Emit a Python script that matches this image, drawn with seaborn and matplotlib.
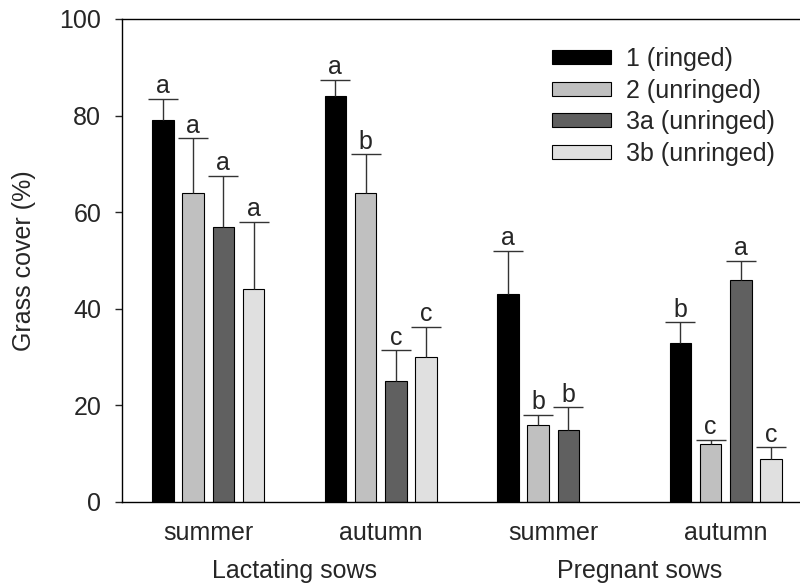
import numpy as np
import pandas as pd
import matplotlib
matplotlib.use("Agg")
import matplotlib.pyplot as plt
import matplotlib.transforms as mtrans
import seaborn as sns

# ---- data ----
seasons = ["summer", "autumn", "summer", "autumn"]
group_ids = ["L-summer", "L-autumn", "P-summer", "P-autumn"]
sow_groups = ["Lactating sows", "Pregnant sows"]
treatments = ["1 (ringed)", "2 (unringed)", "3a (unringed)", "3b (unringed)"]

ringed_1 = [79, 84, 43, 33]
unringed_2 = [64, 64, 16, 12]
unringed_3a = [57, 25, 15, 46]
unringed_3b = [44, 30, np.nan, 9]

err_top_1 = [83.4, 87.4, 52.0, 37.2]
err_top_2 = [75.3, 72.0, 18.1, 12.9]
err_top_3a = [67.5, 31.4, 19.6, 49.9]
err_top_3b = [58.0, 36.3, np.nan, 11.3]

letters_1 = ["a", "a", "a", "b"]
letters_2 = ["a", "b", "b", "c"]
letters_3a = ["a", "c", "b", "a"]
letters_3b = ["a", "c", "", "c"]

colors = ["#000000", "#c0c0c0", "#606060", "#e0e0e0"]

values = [ringed_1, unringed_2, unringed_3a, unringed_3b]
err_tops = [err_top_1, err_top_2, err_top_3a, err_top_3b]
letters = [letters_1, letters_2, letters_3a, letters_3b]

rows = []
for t, vals in zip(treatments, values):
    for g, v in zip(group_ids, vals):
        if not np.isnan(v):
            rows.append({"group": g, "treatment": t, "value": v})
df = pd.DataFrame(rows)

# ---- style ----
sns.set_style("ticks")
plt.rcParams["font.family"] = ["Liberation Sans", "DejaVu Sans"]
plt.rcParams["font.size"] = 18

fig = plt.figure(figsize=(8, 5.88), dpi=100)
ax = fig.add_axes([0.1525, 0.1463, 0.8475, 0.8214])

sns.barplot(data=df, x="group", y="value", hue="treatment",
            order=group_ids, hue_order=treatments, palette=colors,
            width=0.702, gap=0.29, edgecolor="black", linewidth=0.8,
            errorbar=None, ax=ax, legend=True)

bar_containers = list(ax.containers)

# error bars and letters
for h, cont in enumerate(bar_containers):
    for bar in cont:
        if bar is None:
            continue
        hgt = bar.get_height()
        if np.isnan(hgt):
            continue
        xc = bar.get_x() + bar.get_width() / 2
        g = int(round(xc))
        top = err_tops[h][g]
        if np.isnan(top):
            continue
        eb = ax.errorbar([xc], [hgt], yerr=[[0], [top - hgt]], fmt="none",
                         ecolor="#333333", elinewidth=1.0, capsize=10.5,
                         capthick=1.0, zorder=1)
        caps = eb[1]
        if len(caps) == 2:
            caps[0].set_visible(False)
        ax.annotate(letters[h][g], (xc, top), xytext=(0, 0.5),
                    textcoords="offset points", ha="center", va="bottom",
                    fontsize=18)

ax.set_xlim(-0.5, 3.43)
ax.set_ylim(0, 100)
ax.set_yticks([0, 20, 40, 60, 80, 100])
ax.set_xticks(range(len(seasons)))
ax.set_xticklabels(seasons, fontsize=18)
ax.tick_params(axis="x", length=0, pad=14)
ax.tick_params(axis="y", direction="out", length=5, width=1, pad=10, labelsize=18)
ax.set_xlabel("")
ax.set_ylabel("Grass cover (%)", fontsize=18)
ax.yaxis.set_label_coords(-0.127, 0.5)

for s in ["left", "bottom", "top"]:
    ax.spines[s].set_visible(True)
    ax.spines[s].set_linewidth(1.0)
    ax.spines[s].set_color("black")
ax.spines["right"].set_visible(False)

# group labels
trans = mtrans.blended_transform_factory(ax.transData, ax.transAxes)
ax.text(0.5, -0.157, sow_groups[0], transform=trans, ha="center", va="baseline", fontsize=18)
ax.text(2.5, -0.157, sow_groups[1], transform=trans, ha="center", va="baseline", fontsize=18)

leg = ax.legend(loc="upper left", bbox_to_anchor=(0.634, 0.942), frameon=False,
                borderpad=0, borderaxespad=0, handlelength=2.36, handleheight=0.48,
                handletextpad=0.6, labelspacing=0.3, fontsize=18)
for p in leg.get_patches():
    p.set_edgecolor("black")
    p.set_linewidth(0.8)

fig.savefig("out.png", dpi=100)
